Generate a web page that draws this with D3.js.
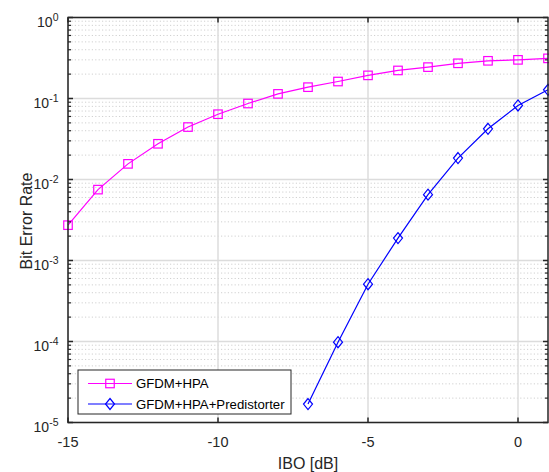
<!DOCTYPE html>
<html>
<head>
<meta charset="utf-8">
<script src="https://cdn.jsdelivr.net/npm/d3@7"></script>
<style>
  body { margin: 0; background: #fff; }
  svg { display: block; font-family: "Liberation Sans", Arial, sans-serif; }
</style>
</head>
<body>
<svg id="chart" width="549" height="472"></svg>
<script>
// ---- data ----
const ibo = [-15, -14, -13, -12, -11, -10, -9, -8, -7, -6, -5, -4, -3, -2, -1, 0, 1];
const berHPA = [2.73e-3, 7.5e-3, 0.0156, 0.0276, 0.0444, 0.064, 0.0867, 0.114, 0.138, 0.162, 0.193, 0.222, 0.244, 0.272, 0.292, 0.30, 0.313];
const iboPD = [-7, -6, -5, -4, -3, -2, -1, 0, 1];
const berPD = [1.69e-5, 9.8e-5, 5.1e-4, 1.89e-3, 6.5e-3, 0.0184, 0.0423, 0.082, 0.128];
const xTicks = [-15, -10, -5, 0];
const yTickExps = [0, -1, -2, -3, -4, -5];
const seriesNames = ["GFDM+HPA", "GFDM+HPA+Predistorter"];
const seriesColors = ["#ff00ff", "#0000ff"];

// ---- layout ----
const L = 68, R = 548, T = 17.5, B = 422.5;
const svg = d3.select("#chart");
const x = d3.scaleLinear().domain([-15, 1]).range([L, R]);
const y = d3.scaleLog().domain([1e-5, 1]).range([B, T]);

// minor y values
const minorY = [];
for (let e = -5; e < 0; e++) for (let m = 2; m <= 9; m++) minorY.push(m * Math.pow(10, e));

// grid
const g = svg.append("g");
g.selectAll(".ymin").data(minorY).enter().append("line")
  .attr("x1", L).attr("x2", R).attr("y1", d => y(d)).attr("y2", d => y(d))
  .attr("stroke", "#d0d0d0").attr("stroke-width", 1).attr("stroke-dasharray", "1.2,2.2");
g.selectAll(".ymaj").data(yTickExps).enter().append("line")
  .attr("x1", L).attr("x2", R).attr("y1", d => y(Math.pow(10, d))).attr("y2", d => y(Math.pow(10, d)))
  .attr("stroke", "#dcdcdc").attr("stroke-width", 1.5);
g.selectAll(".xmaj").data(xTicks).enter().append("line")
  .attr("x1", d => x(d)).attr("x2", d => x(d)).attr("y1", T).attr("y2", B)
  .attr("stroke", "#dcdcdc").attr("stroke-width", 1.5);

// series
const line = d3.line().x(d => x(d[0])).y(d => y(d[1]));
const d1 = ibo.map((v, i) => [v, berHPA[i]]);
const d2 = iboPD.map((v, i) => [v, berPD[i]]);

svg.append("path").datum(d1).attr("d", line).attr("fill", "none")
  .attr("stroke", seriesColors[0]).attr("stroke-width", 1.2);
svg.append("path").datum(d2).attr("d", line).attr("fill", "none")
  .attr("stroke", seriesColors[1]).attr("stroke-width", 1.2);

const sq = 8.5;
svg.selectAll(".sq").data(d1).enter().append("rect")
  .attr("x", d => x(d[0]) - sq / 2).attr("y", d => y(d[1]) - sq / 2)
  .attr("width", sq).attr("height", sq)
  .attr("fill", "none").attr("stroke", seriesColors[0]).attr("stroke-width", 1.2);

const diamond = (cx, cy) => `M${cx},${cy - 5.5}L${cx + 4.5},${cy}L${cx},${cy + 5.5}L${cx - 4.5},${cy}Z`;
svg.selectAll(".dm").data(d2).enter().append("path")
  .attr("d", d => diamond(x(d[0]), y(d[1])))
  .attr("fill", "none").attr("stroke", seriesColors[1]).attr("stroke-width", 1.2);

// axes box
const axisColor = "#262626";
const ax = svg.append("g").attr("stroke", axisColor);
ax.append("rect").attr("x", L).attr("y", T).attr("width", R - L).attr("height", B - T)
  .attr("fill", "none").attr("stroke-width", 1.5);

// x ticks (inward, bottom and top)
xTicks.forEach(t => {
  ax.append("line").attr("x1", x(t)).attr("x2", x(t)).attr("y1", B).attr("y2", B - 5).attr("stroke-width", 1.5);
  ax.append("line").attr("x1", x(t)).attr("x2", x(t)).attr("y1", T).attr("y2", T + 5).attr("stroke-width", 1.5);
});
// y major ticks
yTickExps.forEach(e => {
  const yy = y(Math.pow(10, e));
  ax.append("line").attr("x1", L).attr("x2", L + 5).attr("y1", yy).attr("y2", yy).attr("stroke-width", 1.5);
  ax.append("line").attr("x1", R).attr("x2", R - 5).attr("y1", yy).attr("y2", yy).attr("stroke-width", 1.5);
});
// y minor ticks
minorY.forEach(v => {
  const yy = y(v);
  ax.append("line").attr("x1", L).attr("x2", L + 3).attr("y1", yy).attr("y2", yy).attr("stroke-width", 1.2);
  ax.append("line").attr("x1", R).attr("x2", R - 3).attr("y1", yy).attr("y2", yy).attr("stroke-width", 1.2);
});

// tick labels
const txtColor = "#262626";
xTicks.forEach(t => {
  svg.append("text").attr("x", x(t)).attr("y", 446.5)
    .attr("text-anchor", "middle").attr("font-size", 14.5).attr("fill", txtColor)
    .text(String(t));
});
yTickExps.forEach(e => {
  const yy = y(Math.pow(10, e));
  const t = svg.append("text").attr("x", 58.5).attr("y", yy + 9.5)
    .attr("text-anchor", "end").attr("fill", txtColor).attr("font-size", 14);
  t.append("tspan").text("10");
  t.append("tspan").attr("dy", -6.5).attr("font-size", 10.5).text(String(e));
});

// axis labels
svg.append("text").attr("x", x(-7)).attr("y", 469).attr("text-anchor", "middle")
  .attr("font-size", 16).attr("fill", txtColor).text("IBO [dB]");
svg.append("text").attr("transform", `translate(32,${(T + B) / 2 + 1}) rotate(-90)`)
  .attr("text-anchor", "middle").attr("font-size", 16).attr("fill", txtColor).text("Bit Error Rate");

// legend
const lg = svg.append("g");
lg.append("rect").attr("x", 78).attr("y", 370).attr("width", 213).attr("height", 44)
  .attr("fill", "#fff").attr("stroke", "#262626").attr("stroke-width", 1);
const rows = [383.5, 404];
seriesNames.forEach((name, i) => {
  const yy = rows[i];
  lg.append("line").attr("x1", 88).attr("x2", 132).attr("y1", yy).attr("y2", yy)
    .attr("stroke", seriesColors[i]).attr("stroke-width", 1.2);
  if (i === 0) {
    lg.append("rect").attr("x", 110 - sq / 2).attr("y", yy - sq / 2).attr("width", sq).attr("height", sq)
      .attr("fill", "none").attr("stroke", seriesColors[i]).attr("stroke-width", 1.2);
  } else {
    lg.append("path").attr("d", diamond(110, yy)).attr("fill", "none")
      .attr("stroke", seriesColors[i]).attr("stroke-width", 1.2);
  }
  lg.append("text").attr("x", 136).attr("y", yy + 4.8).attr("font-size", 13.2).attr("fill", "#000").text(name);
});
</script>
</body>
</html>
